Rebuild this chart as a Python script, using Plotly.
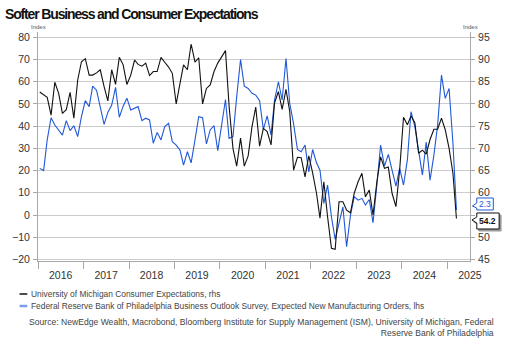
import pandas as pd
import plotly.graph_objects as go

# Monthly observations, Jan 2016 - Mar 2025
dates = pd.date_range("2016-01-01", "2025-03-01", freq="MS") + pd.Timedelta(days=14)

# University of Michigan Index of Consumer Expectations (right axis)
umich_expectations = [
    82.7, 82.0, 81.5, 77.5, 84.9, 82.4, 77.9, 78.7, 82.6, 76.8, 85.4, 89.5,
    90.2, 86.5, 86.5, 87.0, 87.7, 83.9, 80.7, 87.7, 84.4, 90.5, 88.8, 84.4,
    86.5, 89.9, 88.9, 88.5, 89.2, 86.4, 87.3, 87.3, 90.5, 89.4, 88.3, 86.9,
    80.0, 84.7, 88.8, 87.7, 93.5, 89.4, 90.4, 80.0, 83.5, 84.3, 87.3, 89.2,
    90.7, 92.0, 79.5, 70.0, 66.0, 72.3, 66.0, 68.3, 74.9, 79.3, 70.5, 74.5,
    73.8, 70.8, 80.2, 82.8, 78.8, 83.3, 78.3, 65.1, 68.0, 67.9, 63.6, 68.3,
    64.5, 59.9, 54.3, 62.5, 54.6, 47.5, 47.3, 58.0, 58.0, 56.1, 55.5, 59.9,
    62.5, 64.4, 59.1, 60.6, 55.0, 62.5, 68.1, 65.5, 65.8, 59.9, 56.9, 65.2,
    77.0, 75.3, 77.3, 75.8, 68.9, 69.6, 68.7, 72.0, 74.3, 74.3, 76.8, 74.2,
    70.0, 64.4, 54.2,
]

# Philadelphia Fed Business Outlook Survey, future new orders (left axis)
philly_new_orders = [
    21.0, 20.0, 33.8, 43.8, 40.5, 38.3, 36.0, 42.5, 38.0, 40.2, 35.3, 44.3,
    51.5, 48.8, 58.0, 56.2, 48.8, 40.8, 46.2, 49.5, 57.5, 44.0, 49.0, 52.6,
    47.3, 48.0, 48.8, 42.5, 43.6, 42.8, 32.3, 37.2, 33.8, 39.8, 41.3, 33.0,
    31.5, 29.2, 22.5, 28.5, 23.5, 33.8, 44.3, 43.8, 32.0, 38.3, 40.2, 29.0,
    40.5, 52.0, 34.5, 35.3, 53.3, 70.0, 58.0, 57.0, 54.8, 54.0, 51.5, 38.6,
    44.6, 36.0, 51.8, 60.0, 51.8, 70.5, 50.3, 41.0, 29.5, 28.5, 31.5, 19.4,
    29.5, 23.5, 20.2, 5.2, 13.5, -0.8, -11.0, -3.8, 3.7, -14.3, 0.0, 8.2,
    6.7, 7.5, 4.5, 7.0, -3.5, 13.5, 31.5, 22.0, 27.3, 20.2, 13.0, 21.0,
    13.5, 24.8, 46.5, 39.8, 28.5, 18.0, 32.8, 15.7, 27.0, 40.5, 63.0, 52.5,
    57.0, 32.3, 2.3,
]

years = list(range(2016, 2026))
left_ticks = list(range(-20, 81, 10))
right_ticks = list(range(45, 96, 5))
# the 55 label sits under the last-value tags
right_ticktext = ["" if t == 55 else str(t) for t in right_ticks]

TITLE = "Softer Business and Consumer Expectations"
UMICH_NAME = "University of Michigan Consumer Expectations, rhs"
PHILLY_NAME = ("Federal Reserve Bank of Philadelphia Business Outlook Survey, "
               "Expected New Manufacturing Orders, lhs")
SOURCE = ("Source: NewEdge Wealth, Macrobond, Bloomberg Institute for Supply Management (ISM), "
          "University of Michigan, Federal<br>Reserve Bank of Philadelphia")

BLACK = "#111111"
BLUE = "#2058d8"
GRID = "#cccccc"
AXIS = "#a8a8a8"
TEXT = "#333333"
FONT = "Liberation Sans, Arial, sans-serif"

# plot area in pixels
W, H = 505, 345
L, R, T, B = 25, 470, 32, 261
LEFT_RANGE = [-20.7, 82.4]
RIGHT_RANGE = [55 + LEFT_RANGE[0] / 2, 55 + LEFT_RANGE[1] / 2]
X_RANGE = ["2016-01-01", "2025-07-02"]


def px(x):
    return (x - L) / (R - L)


def py(y):
    return (B - y) / (B - T)


def poly(points):
    return "M " + " L ".join(f"{px(x):.5f},{py(y):.5f}" for x, y in points) + " Z"


fig = go.Figure()
fig.add_trace(go.Scatter(
    x=dates, y=philly_new_orders, name=PHILLY_NAME, mode="lines",
    line=dict(color=BLUE, width=1.1), xaxis="x", yaxis="y", showlegend=False,
))
fig.add_trace(go.Scatter(
    x=dates, y=umich_expectations, name=UMICH_NAME, mode="lines",
    line=dict(color=BLACK, width=1.1), xaxis="x2", yaxis="y2", showlegend=False,
))

fig.update_layout(
    width=W, height=H,
    margin=dict(l=L, r=W - R, t=T, b=H - B, pad=0),
    paper_bgcolor="white", plot_bgcolor="white",
    font=dict(family=FONT, size=10.5, color=TEXT),
    title=dict(
        text=f'<b><span style="letter-spacing:-1.15px">{TITLE}</span></b>',
        x=5 / W, xanchor="left", xref="container",
        y=1 - 14 / H, yanchor="middle", yref="container",
        font=dict(family=FONT, size=14, color="#111111"),
    ),
    xaxis=dict(
        type="date", range=X_RANGE,
        tickvals=[f"{y}-01-01" for y in years], ticktext=["" for _ in years],
        ticks="outside", ticklen=7, tickcolor=AXIS, tickwidth=1,
        showline=True, linecolor=AXIS, linewidth=1, showgrid=False, zeroline=False,
    ),
    xaxis2=dict(
        type="date", range=X_RANGE, overlaying="x", anchor="y", side="bottom",
        tickvals=[f"{y}-07-01" for y in years], ticktext=[str(y) for y in years],
        ticks="", showline=False, showgrid=False, zeroline=False,
        tickfont=dict(size=10.5, color=TEXT), ticklabelstandoff=6,
    ),
    yaxis=dict(
        range=LEFT_RANGE, tickvals=left_ticks, ticks="outside", ticklen=4,
        tickcolor=AXIS, showline=True, linecolor=AXIS, showgrid=True,
        gridcolor=GRID, gridwidth=1, zeroline=False,
        tickfont=dict(size=10.5, color=TEXT), ticklabelstandoff=1,
    ),
    yaxis2=dict(
        range=RIGHT_RANGE, tickvals=right_ticks, ticktext=right_ticktext,
        overlaying="y", side="right",
        anchor="x", ticks="outside", ticklen=4, tickcolor=AXIS, showline=True,
        linecolor=AXIS, showgrid=False, zeroline=False,
        tickfont=dict(size=10.5, color=TEXT), ticklabelstandoff=1,
    ),
)

annotations = []
shapes = []

# small axis unit labels
for xpix in (25, 470):
    annotations.append(dict(
        text="Index", x=px(xpix), y=py(27), xref="paper", yref="paper",
        showarrow=False, font=dict(size=6, color="#555555"),
        xanchor="center", yanchor="middle",
    ))

# legend rows
for ypix, color, width, name in ((294, BLACK, 1.5, UMICH_NAME),
                                 (306, "#7f9be6", 2.5, PHILLY_NAME)):
    shapes.append(dict(type="line", xref="paper", yref="paper",
                       x0=px(6), x1=px(14), y0=py(ypix), y1=py(ypix),
                       line=dict(color=color, width=width)))
    annotations.append(dict(
        text=name, x=px(16), y=py(ypix), xref="paper", yref="paper",
        showarrow=False, xanchor="left", yanchor="middle",
        font=dict(size=8.4, color="#444444"),
    ))

# source note
annotations.append(dict(
    text=SOURCE, x=px(497), y=py(315), xref="paper", yref="paper",
    showarrow=False, xanchor="right", yanchor="top", align="right",
    font=dict(size=8.6, color="#444444"),
))

# last-value tags
last_philly = philly_new_orders[-1]
last_umich = umich_expectations[-1]

shapes.append(dict(type="path", xref="paper", yref="paper", layer="above",
                   path=poly([(477, 198), (494, 198), (494, 210), (477, 210),
                              (477, 208), (472.5, 206), (477, 203)]),
                   fillcolor="white", line=dict(color=BLUE, width=1)))
annotations.append(dict(
    text=f"{last_philly:.1f}", x=px(485.5), y=py(204), xref="paper", yref="paper",
    showarrow=False, xanchor="center", yanchor="middle",
    font=dict(size=8.5, color=BLUE),
))

tag = [(477, 213), (500, 213), (500, 229), (477, 229), (477, 223), (472, 220), (477, 217)]
shapes.append(dict(type="path", xref="paper", yref="paper", layer="above",
                   path=poly([(x + 2, y + 2) for x, y in tag]),
                   fillcolor="#9a9a9a", line=dict(color="#9a9a9a", width=1)))
shapes.append(dict(type="path", xref="paper", yref="paper", layer="above",
                   path=poly(tag), fillcolor="white", line=dict(color=BLACK, width=1)))
annotations.append(dict(
    text=f"<b>{last_umich:.1f}</b>", x=px(488.5), y=py(221), xref="paper", yref="paper",
    showarrow=False, xanchor="center", yanchor="middle",
    font=dict(size=8.5, color=BLACK),
))

fig.update_layout(annotations=annotations, shapes=shapes)
fig.write_html("out.html")
